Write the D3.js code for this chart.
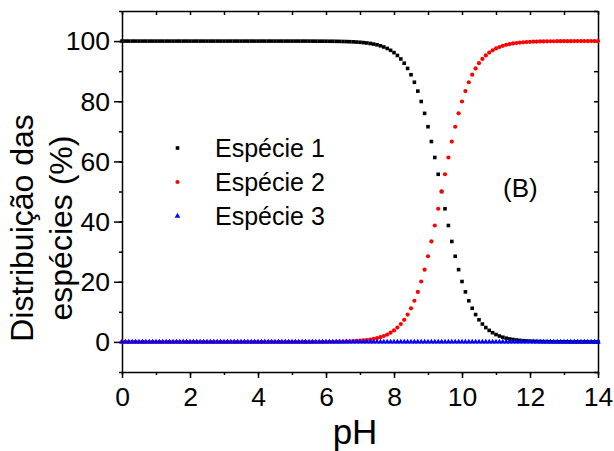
<!DOCTYPE html>
<html>
<head>
<meta charset="utf-8">
<script src="https://cdn.jsdelivr.net/npm/d3@7"></script>
<style>
  body { margin: 0; background: #fff; }
  text { font-family: "Liberation Sans", Arial, sans-serif; fill: #000; }
</style>
</head>
<body>
<svg id="chart" width="614" height="451"></svg>
<script>
// DATA (step 0.1 pH)
var pH = [
  0.0,0.1,0.2,0.3,0.4,0.5,0.6,0.7,0.8,0.9,
  1.0,1.1,1.2,1.3,1.4,1.5,1.6,1.7,1.8,1.9,
  2.0,2.1,2.2,2.3,2.4,2.5,2.6,2.7,2.8,2.9,
  3.0,3.1,3.2,3.3,3.4,3.5,3.6,3.7,3.8,3.9,
  4.0,4.1,4.2,4.3,4.4,4.5,4.6,4.7,4.8,4.9,
  5.0,5.1,5.2,5.3,5.4,5.5,5.6,5.7,5.8,5.9,
  6.0,6.1,6.2,6.3,6.4,6.5,6.6,6.7,6.8,6.9,
  7.0,7.1,7.2,7.3,7.4,7.5,7.6,7.7,7.8,7.9,
  8.0,8.1,8.2,8.3,8.4,8.5,8.6,8.7,8.8,8.9,
  9.0,9.1,9.2,9.3,9.4,9.5,9.6,9.7,9.8,9.9,
  10.0,10.1,10.2,10.3,10.4,10.5,10.6,10.7,10.8,10.9,
  11.0,11.1,11.2,11.3,11.4,11.5,11.6,11.7,11.8,11.9,
  12.0,12.1,12.2,12.3,12.4,12.5,12.6,12.7,12.8,12.9,
  13.0,13.1,13.2,13.3,13.4,13.5,13.6,13.7,13.8,13.9,
  14.0
];
var especie1 = [
  100,100,100,100,100,100,100,100,100,100,
  100,100,100,100,100,100,100,100,100,100,
  100,100,100,100,100,100,100,100,100,100,
  100,100,100,100,100,100,100,100,100,100,
  100,100,100,100,100,100,100,100,100,100,
  100,100,100,100,100,99.99,99.98,99.98,99.97,99.97,
  99.96,99.95,99.94,99.92,99.90,99.87,99.84,99.80,99.75,99.68,
  99.60,99.50,99.37,99.21,99.01,98.76,98.44,98.04,97.55,96.93,
  96.17,95.23,94.06,92.64,90.91,88.82,86.32,83.37,79.92,75.97,
  71.53,66.61,61.31,55.73,50.00,44.27,38.69,33.39,28.47,24.03,
  20.08,16.63,13.68,11.18,9.09,7.36,5.94,4.77,3.83,3.07,
  2.45,1.96,1.56,1.24,0.99,0.79,0.63,0.50,0.40,0.32,
  0.25,0.20,0.16,0.13,0.10,0.08,0.06,0.05,0.04,0.03,
  0.03,0.02,0.02,0.01,0.01,0.01,0.01,0.01,0,0,
  0
];
var especie2 = [
  0,0,0,0,0,0,0,0,0,0,
  0,0,0,0,0,0,0,0,0,0,
  0,0,0,0,0,0,0,0,0,0,
  0,0,0,0,0,0,0,0,0,0,
  0,0,0,0,0,0,0,0,0,0,
  0,0,0,0,0,0.01,0.02,0.02,0.03,0.03,
  0.04,0.05,0.06,0.08,0.10,0.13,0.16,0.20,0.25,0.32,
  0.40,0.50,0.63,0.79,0.99,1.24,1.56,1.96,2.45,3.07,
  3.83,4.77,5.94,7.36,9.09,11.18,13.68,16.63,20.08,24.03,
  28.47,33.39,38.69,44.27,50.00,55.73,61.31,66.61,71.53,75.97,
  79.92,83.37,86.32,88.82,90.91,92.64,94.06,95.23,96.17,96.93,
  97.55,98.04,98.44,98.76,99.01,99.21,99.37,99.50,99.60,99.68,
  99.75,99.80,99.84,99.87,99.90,99.92,99.94,99.95,99.96,99.97,
  99.97,99.98,99.98,99.99,99.99,99.99,99.99,99.99,100,100,
  100
];
var especie3 = [
  0,0,0,0,0,0,0,0,0,0, 0,0,0,0,0,0,0,0,0,0,
  0,0,0,0,0,0,0,0,0,0, 0,0,0,0,0,0,0,0,0,0,
  0,0,0,0,0,0,0,0,0,0, 0,0,0,0,0,0,0,0,0,0,
  0,0,0,0,0,0,0,0,0,0, 0,0,0,0,0,0,0,0,0,0,
  0,0,0,0,0,0,0,0,0,0, 0,0,0,0,0,0,0,0,0,0,
  0,0,0,0,0,0,0,0,0,0, 0,0,0,0,0,0,0,0,0,0,
  0,0,0,0,0,0,0,0,0,0, 0,0,0,0,0,0,0,0,0,0,
  0
];
var seriesNames = ["Espécie 1", "Espécie 2", "Espécie 3"];
var xTicks = [0, 2, 4, 6, 8, 10, 12, 14];
var yTicks = [0, 20, 40, 60, 80, 100];

// plot geometry
var margin = {top: 11, right: 16, bottom: 79, left: 122},
    width = 614 - margin.left - margin.right,
    height = 451 - margin.top - margin.bottom;
var fontSize = 25;
var tickFont = 26.5;
var axisWidth = 1.5;

var svg = d3.select("#chart");
var g = svg.append("g")
  .attr("transform", "translate(" + margin.left + "," + margin.top + ")");

var x = d3.scaleLinear().domain([0, 14]).range([0, width]);
var y = d3.scaleLinear().domain([-10, 110]).range([height, 0]);

// axes: bottom & left outward, top & right mirrored inward without labels
var styleAxis = function(sel) {
  sel.selectAll("path, line").attr("stroke", "#000").attr("stroke-width", axisWidth);
  sel.selectAll("text").style("font-size", tickFont + "px")
    .style("font-family", "'Liberation Sans', Arial, sans-serif").attr("fill", "#000");
};

g.append("g").attr("transform", "translate(0," + height + ")")
  .call(d3.axisBottom(x).tickValues(d3.range(0, 15, 1)).tickSize(3).tickFormat("").tickSizeOuter(0))
  .call(styleAxis);
g.append("g").attr("transform", "translate(0," + height + ")")
  .call(d3.axisBottom(x).tickValues(xTicks).tickSize(6).tickPadding(8).tickSizeOuter(0))
  .call(styleAxis)
  .call(function(a) { a.select(".domain").remove(); a.selectAll("text").attr("dy", "0.74em"); });

g.append("g")
  .call(d3.axisLeft(y).tickValues(d3.range(-10, 111, 10)).tickSize(3).tickFormat("").tickSizeOuter(0))
  .call(styleAxis);
g.append("g")
  .call(d3.axisLeft(y).tickValues(yTicks).tickSize(8).tickPadding(4).tickSizeOuter(0))
  .call(styleAxis)
  .call(function(a) { a.select(".domain").remove(); a.selectAll("text").attr("dy", "0.33em"); });

g.append("g")
  .call(d3.axisTop(x).tickValues(d3.range(0, 15, 1)).tickSize(-4).tickFormat("").tickSizeOuter(0))
  .call(styleAxis);
g.append("g").attr("transform", "translate(" + width + ",0)")
  .call(d3.axisRight(y).tickValues(d3.range(-10, 111, 10)).tickSize(-4).tickFormat("").tickSizeOuter(0))
  .call(styleAxis);

// axis labels
g.append("text")
  .attr("x", width / 2 - 5)
  .attr("y", height + 72)
  .attr("text-anchor", "middle")
  .style("font-size", "35px")
  .text("pH");

var ylab = g.append("text")
  .attr("transform", "translate(" + (-89) + "," + (228 - margin.top) + ") rotate(-90)")
  .attr("text-anchor", "middle")
  .style("font-size", "32px");
ylab.append("tspan").attr("x", 0).attr("y", 0).text("Distribuição das");
ylab.append("tspan").attr("x", 0).attr("y", 39).text("espécies (%)");

// series
var rows = pH.map(function(p, i) {
  return {pH: p, s1: especie1[i], s2: especie2[i], s3: especie3[i]};
});

var sq = 3.6;
g.append("g").selectAll("rect").data(rows).enter().append("rect")
  .attr("x", function(d) { return x(d.pH) - sq / 2; })
  .attr("y", function(d) { return y(d.s1) - sq / 2; })
  .attr("width", sq).attr("height", sq)
  .attr("fill", "#000");

g.append("g").selectAll("circle").data(rows).enter().append("circle")
  .attr("cx", function(d) { return x(d.pH); })
  .attr("cy", function(d) { return y(d.s2); })
  .attr("r", 2.1)
  .attr("fill", "#ff0000");

var tri = d3.symbol().type(d3.symbolTriangle).size(14);
g.append("g").selectAll("path").data(rows).enter().append("path")
  .attr("d", tri)
  .attr("transform", function(d) { return "translate(" + x(d.pH) + "," + y(d.s3) + ")"; })
  .attr("fill", "#0000ff");

// legend
var leg = g.append("g").attr("transform", "translate(" + (177.5 - margin.left) + "," + (148 - margin.top) + ")");
var legRow = 34;
leg.append("rect").attr("x", -sq / 2).attr("y", -sq / 2).attr("width", sq).attr("height", sq).attr("fill", "#000");
leg.append("circle").attr("cx", 0).attr("cy", legRow).attr("r", 2.1).attr("fill", "#ff0000");
leg.append("path").attr("d", tri).attr("transform", "translate(0," + (2 * legRow) + ")").attr("fill", "#0000ff");
seriesNames.forEach(function(name, i) {
  leg.append("text")
    .attr("x", 37.5)
    .attr("y", i * legRow + 9)
    .style("font-size", fontSize + "px")
    .text(name);
});

// panel tag
g.append("text")
  .attr("x", 503 - margin.left)
  .attr("y", 197 - margin.top)
  .style("font-size", "26px")
  .text("(B)");
</script>
</body>
</html>
